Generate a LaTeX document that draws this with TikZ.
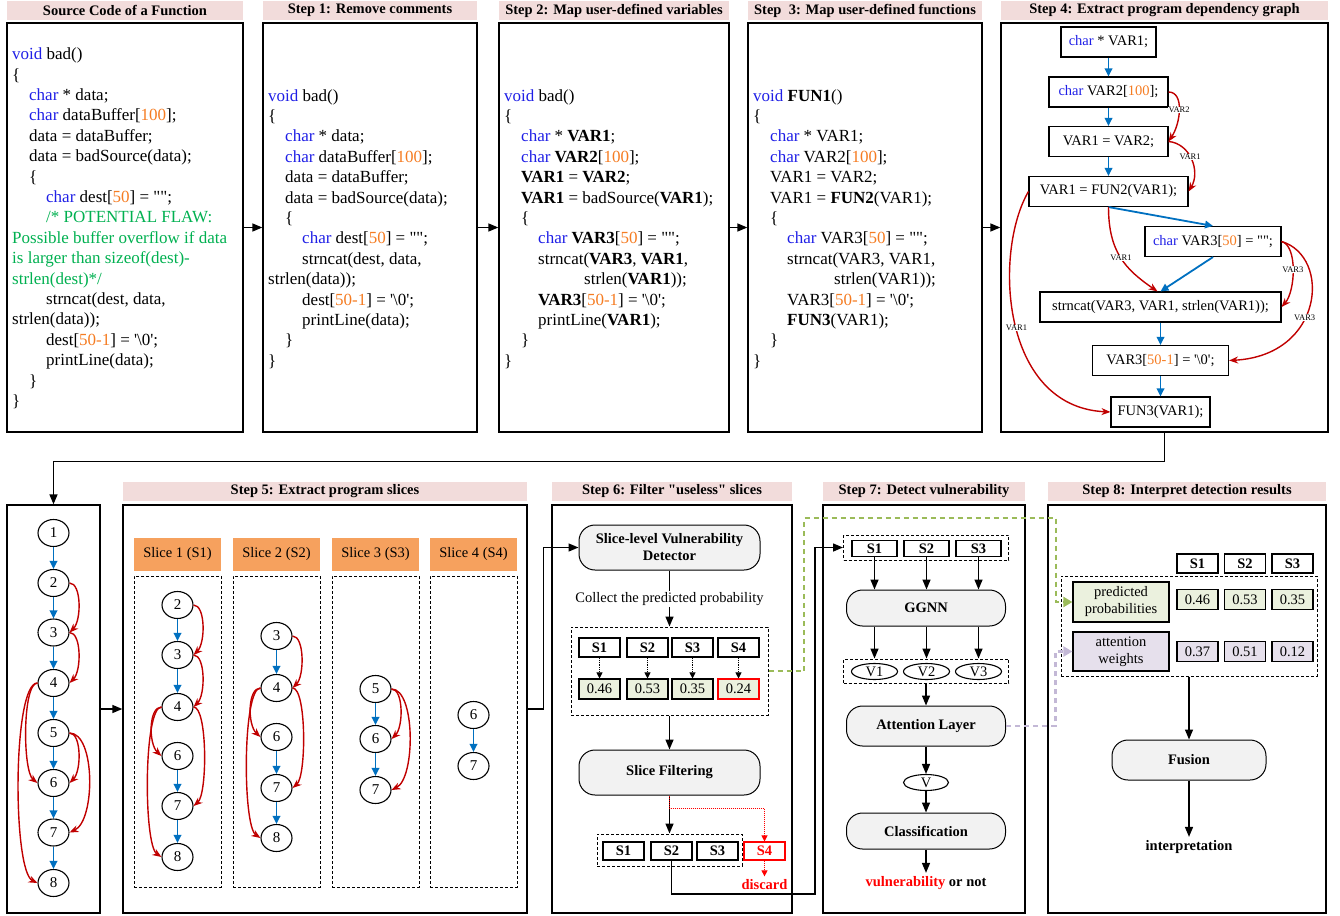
\documentclass[tikz,border=0pt]{standalone}
\usepackage{fontspec}
\setmainfont{Liberation Serif}[Ligatures=TeXOff]
\usepackage{xcolor}
\usetikzlibrary{arrows.meta, shapes.geometric}

\definecolor{titlepink}{HTML}{F2DCDB}
\definecolor{sliceorange}{HTML}{F6A15E}
\definecolor{boxgray}{HTML}{F2F2F2}
\definecolor{valgreen}{HTML}{EBF1DE}
\definecolor{vallav}{HTML}{E6E0EC}
\definecolor{linkgreen}{HTML}{9BBB59}
\definecolor{linklav}{HTML}{C3B8D6}
\definecolor{flowblue}{HTML}{0070C0}
\definecolor{depred}{HTML}{C00000}
\definecolor{codeblue}{HTML}{1F1FE6}
\definecolor{codeorange}{HTML}{F57C22}
\definecolor{codegreen}{HTML}{00B050}

\newcommand{\codefont}{\fontsize{17}{20.4}\selectfont}
\newcommand{\labfont}{\fontsize{14.5}{17}\selectfont}
\newcommand{\nodefont}{\fontsize{15}{15}\selectfont}
\newcommand{\edgefont}{\fontsize{8.5}{9}\selectfont}
\newcommand{\ckw}[1]{\textcolor{codeblue}{#1}}
\newcommand{\cnum}[1]{\textcolor{codeorange}{#1}}
\newcommand{\cind}{\hspace*{17pt}}
\newcommand{\cindd}{\hspace*{34pt}}

\tikzset{
	steptitle/.style={fill=titlepink, inner sep=0pt, minimum height=19pt, font=\labfont\bfseries},
	panel/.style={draw, line width=1.3pt, inner sep=0pt},
	codeblock/.style={anchor=north west, inner sep=0pt, align=left, font=\codefont},
	gnode/.style={draw, line width=1.1pt, inner sep=0pt, minimum height=30pt, font=\labfont},
	pnode/.style={ellipse, draw, line width=1.1pt, inner sep=0pt, minimum width=31pt, minimum height=27pt, font=\nodefont},
	flow/.style={draw=flowblue, line width=1.8pt, -{Triangle[length=8pt,width=7.5pt]}},
	dep/.style={draw=depred, line width=1.4pt, -{Stealth[length=9pt,width=7pt]}},
	deplabel/.style={font=\edgefont, fill=white, inner sep=0.5pt},
	link/.style={line width=1.4pt, -{Triangle[length=10pt,width=8pt]}},
	slicehead/.style={fill=sliceorange, minimum width=87pt, minimum height=33pt, inner sep=0pt, font=\labfont},
	slicebox/.style={draw, densely dashed, line width=0.9pt, minimum width=87pt, minimum height=311pt, inner sep=0pt},
	groupbox/.style={draw, densely dashed, line width=1pt, inner sep=0pt},
	module/.style={draw, fill=boxgray, rounded corners=16pt, line width=1pt, inner sep=0pt, align=center, font=\labfont\bfseries},
	sbox/.style={draw, line width=1.6pt, inner sep=0pt, minimum width=41pt, minimum height=19pt, font=\labfont\bfseries},
	valbox/.style={draw, fill=valgreen, line width=1.1pt, inner sep=0pt, minimum width=41pt, minimum height=20pt, font=\labfont},
	legendbox/.style={draw, line width=1.2pt, inner sep=0pt, minimum width=96pt, minimum height=40pt, align=center, font=\labfont},
	vnode/.style={ellipse, draw, line width=1.1pt, inner sep=0pt, minimum width=46pt, minimum height=16pt, font=\labfont},
	dotarrow/.style={densely dotted, line width=0.9pt, -{Triangle[length=6pt,width=6pt]}},
	discardline/.style={draw=red, densely dotted, line width=1pt, -{Triangle[length=6pt,width=6pt]}},
	problink/.style={draw=linkgreen, line width=2.8pt, dash pattern=on 5pt off 4pt, -{Triangle[length=9pt,width=10pt]}},
	attlink/.style={draw=linklav, line width=2.8pt, dash pattern=on 5pt off 4pt, -{Triangle[length=9pt,width=10pt]}},
}

\begin{document}
\begin{tikzpicture}[x=1pt, y=-1pt]
	\useasboundingbox (0,0) rectangle (1340,915);
	
	% top row
	\foreach \nm/\cx/\w/\txt in {src/125/236/Source Code of a Function, one/370/214/Step 1: Remove comments, two/614/230/Step 2: Map user-defined variables, three/865/234/Step\ \ 3: Map user-defined functions, four/1164.5/327/Step 4: Extract program dependency graph}{
		\node[steptitle, minimum width=\w pt] (\nm-title) at (\cx,10.5) {\txt};
		\node[panel, minimum width=\w pt, minimum height=409pt] (\nm-box) at (\cx,227.5) {};
	}
	\foreach \a/\b in {src/one, one/two, two/three, three/four}
		\draw[link] (\a-box) -- (\b-box);
	
	\node[codeblock] (code0) at (12,45.2) {\strut\ckw{void} bad()\\
		\{\\
		\cind\ckw{char} * data;\\
		\cind\ckw{char} dataBuffer[\cnum{100}];\\
		\cind data = dataBuffer;\\
		\cind data = badSource(data);\\
		\cind\{\\
		\cindd\ckw{char} dest[\cnum{50}] = "";\\
		\cindd\textcolor{codegreen}{/* POTENTIAL FLAW:}\\
		\textcolor{codegreen}{Possible buffer overflow if data}\\
		\textcolor{codegreen}{is larger than sizeof(dest)-}\\
		\textcolor{codegreen}{strlen(dest)*/}\\
		\cindd strncat(dest, data,\\
		strlen(data));\\
		\cindd dest[\cnum{50-1}] = '\textbackslash0';\\
		\cindd printLine(data);\\
		\cind\}\\
		\}};
	
	\node[codeblock] (code1) at (268,86.7) {\strut\ckw{void} bad()\\
		\{\\
		\cind\ckw{char} * data;\\
		\cind\ckw{char} dataBuffer[\cnum{100}];\\
		\cind data = dataBuffer;\\
		\cind data = badSource(data);\\
		\cind\{\\
		\cindd\ckw{char} dest[\cnum{50}] = "";\\
		\cindd strncat(dest, data,\\
		strlen(data));\\
		\cindd dest[\cnum{50-1}] = '\textbackslash0';\\
		\cindd printLine(data);\\
		\cind\}\\
		\}};
	
	\node[codeblock] (code2) at (504,86.7) {\strut\ckw{void} bad()\\
		\{\\
		\cind\ckw{char} * \textbf{VAR1};\\
		\cind\ckw{char} \textbf{VAR2}[\cnum{100}];\\
		\cind\textbf{VAR1} = \textbf{VAR2};\\
		\cind\textbf{VAR1} = badSource(\textbf{VAR1});\\
		\cind\{\\
		\cindd\ckw{char} \textbf{VAR3}[\cnum{50}] = "";\\
		\cindd strncat(\textbf{VAR3}, \textbf{VAR1},\\
		\hspace*{80pt}strlen(\textbf{VAR1}));\\
		\cindd\textbf{VAR3}[\cnum{50-1}] = '\textbackslash0';\\
		\cindd printLine(\textbf{VAR1});\\
		\cind\}\\
		\}};
	
	\node[codeblock] (code3) at (753,86.7) {\strut\ckw{void} \textbf{FUN1}()\\
		\{\\
		\cind\ckw{char} * VAR1;\\
		\cind\ckw{char} VAR2[\cnum{100}];\\
		\cind VAR1 = VAR2;\\
		\cind VAR1 = \textbf{FUN2}(VAR1);\\
		\cind\{\\
		\cindd\ckw{char} VAR3[\cnum{50}] = "";\\
		\cindd strncat(VAR3, VAR1,\\
		\hspace*{81pt}strlen(VAR1));\\
		\cindd VAR3[\cnum{50-1}] = '\textbackslash0';\\
		\cindd\textbf{FUN3}(VAR1);\\
		\cind\}\\
		\}};
	
	% program dependency graph
	\node[gnode, minimum width=95pt] (g1) at (1108.5,42) {\ckw{char} * VAR1;};
	\node[gnode, minimum width=119pt] (g2) at (1108.5,92) {\ckw{char} VAR2[\cnum{100}];};
	\node[gnode, minimum width=119pt] (g3) at (1108.5,141.5) {VAR1 = VAR2;};
	\node[gnode, minimum width=159pt] (g4) at (1108.5,191.5) {VAR1 = FUN2(VAR1);};
	\node[gnode, minimum width=136pt] (g5) at (1213,241.5) {\ckw{char} VAR3[\cnum{50}] = "";};
	\node[gnode, minimum width=241pt] (g6) at (1160.5,307) {strncat(VAR3, VAR1, strlen(VAR1));};
	\node[gnode, minimum width=136pt] (g7) at (1160.5,360.5) {VAR3[\cnum{50-1}] = '\textbackslash0';};
	\node[gnode, minimum width=99pt] (g8) at (1160.5,412) {FUN3(VAR1);};
	
	\foreach \a/\b in {g1/g2, g2/g3, g3/g4, g6/g7, g7/g8}
		\draw[flow] (\a) -- (\b);
	\draw[flow] (g4.south) -- (g5.north);
	\draw[flow] (g5.south) -- (g6.north);
	
	\draw[dep] (g2.east) .. controls +(16,0) and +(12,-18) .. (g3.east) node[deplabel, pos=0.5] {VAR2};
	\draw[dep] (g3.east) .. controls +(22,2) and +(12,-20) .. (g4.east) node[deplabel, pos=0.45] {VAR1};
	\draw[dep] (g4.south) .. controls +(0,45) and +(-32,-22) .. ([xshift=-3pt]g6.north) node[deplabel, pos=0.5] {VAR1};
	\draw[dep] (g5.east) .. controls +(16,4) and +(14,-16) .. (g6.east) node[deplabel, pos=0.5] {VAR3};
	\draw[dep] (g5.east) .. controls +(50,15) and +(95,-5) .. (g7.east) node[deplabel, pos=0.58] {VAR3};
	\draw[dep] (g4.west) .. controls +(-35,60) and +(-110,-5) .. (g8.west) node[deplabel, pos=0.52] {VAR1};
	
	% bottom row
	\node[panel, minimum width=93pt, minimum height=408pt] (pdgbox) at (53.5,709) {};
	\foreach \nm/\cx/\w/\txt in {slice/325/404/Step 5: Extract program slices, filter/672/240/Step 6: Filter "useless" slices, detect/924/202/Step 7: Detect vulnerability, interp/1187/278/Step 8: Interpret detection results}{
		\node[steptitle, minimum width=\w pt] (\nm-title) at (\cx,491.5) {\txt};
		\node[panel, minimum width=\w pt, minimum height=408pt] (\nm-box) at (\cx,709) {};
	}
	\draw[link] (four-box.south) -- ++(0,29) -| (pdgbox.north);
	\draw[link] (pdgbox) -- (slice-box);
	
	\foreach \i/\y in {1/533, 2/583, 3/632.5, 4/683, 5/733, 6/783, 7/832.5, 8/883}
		\node[pnode] (l\i) at (53.5,\y) {\i};
	\foreach \a/\b in {1/2, 2/3, 3/4, 4/5, 5/6, 6/7, 7/8}
		\draw[flow] (l\a) -- (l\b);
	\foreach \a/\b/\d in {2/3/12, 3/4/12, 5/6/12, 5/7/26}
		\draw[dep] (l\a.east) .. controls +(\d,0) and +(\d,-12) .. (l\b.east);
	\foreach \a/\b/\d in {4/6/15, 4/8/25}
		\draw[dep] (l\a.west) .. controls +(-\d,0) and +(-\d,-12) .. (l\b.west);
	
	% slices
	\foreach \i/\x in {1/177.5, 2/276.5, 3/375.5, 4/473.5}{
		\node[slicehead] (head\i) at (\x,554.5) {Slice \i\ (S\i)};
		\node[slicebox] (slice\i) at (\x,731.5) {};
	}
	\foreach \n/\y in {2/605, 3/655, 4/707, 6/756, 7/806, 8/857}
		\node[pnode] (a\n) at (177.5,\y) {\n};
	\foreach \n/\y in {3/636, 4/688, 6/737, 7/788, 8/838}
		\node[pnode] (b\n) at (276.5,\y) {\n};
	\foreach \n/\y in {5/689, 6/739, 7/790}
		\node[pnode] (c\n) at (375.5,\y) {\n};
	\foreach \n/\y in {6/715, 7/766}
		\node[pnode] (d\n) at (473.5,\y) {\n};
	\foreach \a/\b in {a2/a3, a3/a4, a6/a7, a7/a8, b3/b4, b6/b7, b7/b8, c5/c6, c6/c7, d6/d7}
		\draw[flow] (\a) -- (\b);
	\foreach \a/\b/\d in {a2/a3/12, a3/a4/12, a4/a7/14, b3/b4/12, b4/b7/14, c5/c6/12, c5/c7/24}
		\draw[dep] (\a.east) .. controls +(\d,0) and +(\d,-12) .. (\b.east);
	\foreach \a/\b/\d in {a4/a6/13, a4/a8/18, b4/b6/13, b4/b8/18}
		\draw[dep] (\a.west) .. controls +(-\d,0) and +(-\d,-12) .. (\b.west);
	
	% step 6
	\node[module, minimum width=181pt, minimum height=45pt] (det) at (669.5,547.5) {Slice-level Vulnerability\\Detector};
	\node[font=\labfont, inner sep=1pt] (collect) at (669.5,599) {Collect the predicted probability};
	\node[groupbox, minimum width=197pt, minimum height=88pt] (probs) at (669.5,671) {};
	\foreach \i/\x/\v in {1/599.5/0.46, 2/647.5/0.53, 3/692.5/0.35}{
		\node[sbox] (ps\i) at (\x,647.5) {S\i};
		\node[valbox] (pv\i) at (\x,689) {\v};
		\draw[dotarrow] (ps\i) -- (pv\i);
	}
	\node[sbox] (ps4) at (738.5,647.5) {S4};
	\node[valbox, draw=red] (pv4) at (738.5,689) {0.24};
	\draw[dotarrow] (ps4) -- (pv4);
	\node[module, minimum width=181pt, minimum height=45pt] (filt) at (669.5,772.5) {Slice Filtering};
	\node[groupbox, minimum width=145pt, minimum height=32pt] (kept) at (669.5,850) {};
	\foreach \i/\x in {1/623.5, 2/671.5, 3/717.5}
		\node[sbox, minimum height=18pt] (ks\i) at (\x,851) {S\i};
	\node[sbox, minimum height=18pt, draw=red, text=red, line width=1.1pt] (ks4) at (764.5,851) {S4};
	\node[font=\labfont\bfseries, text=red] (discard) at (764.5,885) {discard};
	
	\draw[link] (slice-box.east) -- ++(16,0) |- (det.west);
	\draw[line width=1.4pt] (det) -- (collect);
	\draw[link] (collect) -- (probs);
	\draw[link] (probs) -- (filt);
	\draw[link] (filt) -- (kept);
	\draw[discardline] (filt.south) -- ++(0,13) -| (ks4.north);
	\draw[discardline] (ks4.south) -- (discard.north);
	
	% step 7
	\node[groupbox, minimum width=165pt, minimum height=25pt] (ins) at (926,547.5) {};
	\node[module, minimum width=159pt, minimum height=36pt] (ggnn) at (926,608) {GGNN};
	\node[groupbox, minimum width=165pt, minimum height=24pt] (vecs) at (926,671) {};
	\foreach \i/\x in {1/874.5, 2/926.5, 3/978.5}{
		\node[sbox, minimum width=45pt, minimum height=16pt] (is\i) at (\x,548.5) {S\i};
		\node[vnode] (v\i) at (\x,671.5) {V\i};
		\draw[link] (is\i) -- (is\i |- ggnn.north);
		\draw[link] (is\i |- ggnn.south) -- (is\i |- vecs.north);
	}
	\node[module, minimum width=159pt, minimum height=40pt] (att) at (926,726) {Attention Layer};
	\node[vnode, minimum width=45pt] (vall) at (926,782.5) {V};
	\node[module, minimum width=159pt, minimum height=36pt] (cls) at (926,831) {Classification};
	\node[font=\labfont\bfseries] (verdict) at (926,883) {\textcolor{red}{vulnerability} or not};
	\draw[link] (vecs) -- (att);
	\draw[link] (att) -- (vall);
	\draw[link] (vall) -- (cls);
	\draw[link] (cls) -- (verdict);
	
	\coordinate (turn) at (815,894);
	\draw[link] (ks2.south) |- (turn) |- (ins.west);
	
	% step 8
	\foreach \i/\x/\p/\q in {1/1197.5/0.46/0.37, 2/1245/0.53/0.51, 3/1292.5/0.35/0.12}{
		\node[sbox] (hs\i) at (\x,563.5) {S\i};
		\node[valbox] (hp\i) at (\x,599.5) {\p};
		\node[valbox, fill=vallav] (hw\i) at (\x,651.5) {\q};
	}
	\node[groupbox, minimum width=256pt, minimum height=100pt] (scores) at (1189,626) {};
	\node[legendbox, fill=valgreen] (pp) at (1121,602) {predicted\\probabilities};
	\node[legendbox, fill=vallav, minimum height=39pt] (aw) at (1121,651.5) {attention\\weights};
	\node[module, minimum width=154pt, minimum height=40pt] (fusion) at (1189,760) {Fusion};
	\node[font=\labfont\bfseries] (interpret) at (1189,847) {interpretation};
	\draw[link] (scores) -- (fusion);
	\draw[link] (fusion) -- (interpret);
	
	\coordinate (gA) at (804,518);
	\coordinate (gB) at (1056,518);
	\draw[problink] (probs.east) -| (gA) -- (gB) |- (pp.west);
	\draw[attlink] (att.east) -| ([xshift=-17pt]aw.west) -- (aw.west);
\end{tikzpicture}
\end{document}
